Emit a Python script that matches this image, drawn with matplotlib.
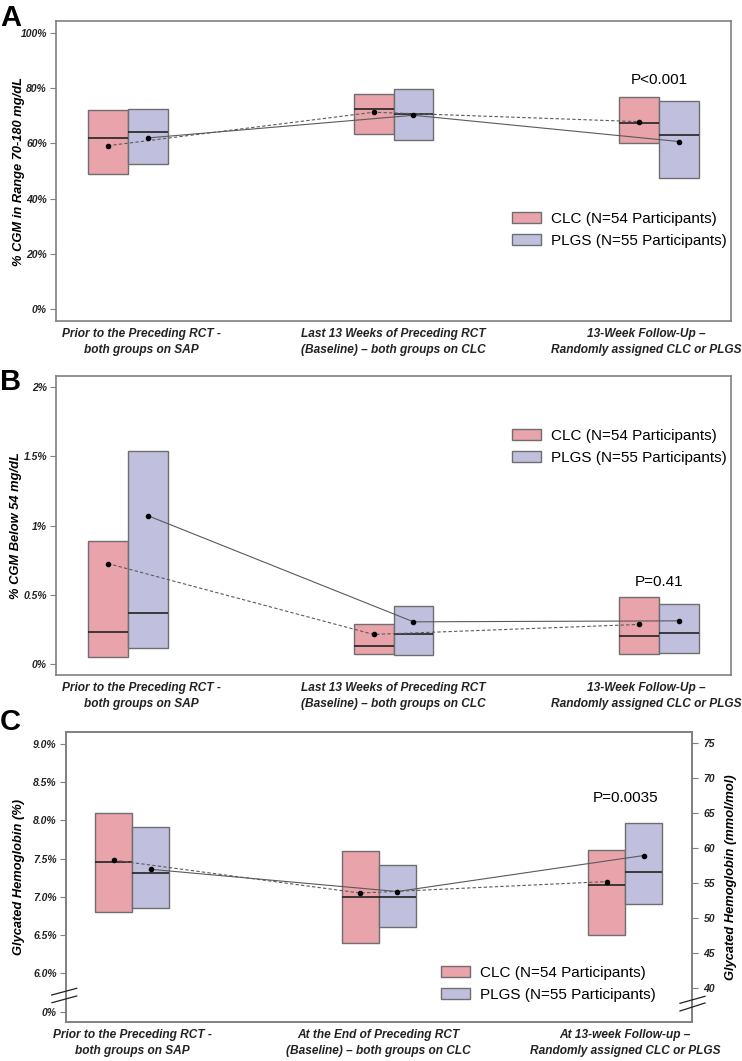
import numpy as np
import matplotlib.pyplot as plt
from matplotlib.patches import Patch

plt.rcParams['font.family'] = ['Liberation Sans', 'DejaVu Sans']

# ---- data -------------------------------------------------------------
groups = [1, 2, 3]
labels_ab = ["Prior to the Preceding RCT -\nboth groups on SAP",
             "Last 13 Weeks of Preceding RCT\n(Baseline) \u2013 both groups on CLC",
             "13-Week Follow-Up \u2013\nRandomly assigned CLC or PLGS"]
labels_c = ["Prior to the Preceding RCT -\nboth groups on SAP",
            "At the End of Preceding RCT\n(Baseline) \u2013 both groups on CLC",
            "At 13-week Follow-up \u2013\nRandomly assigned CLC or PLGS"]
legend_labels = ["CLC (N=54 Participants)", "PLGS (N=55 Participants)"]

# panel A: % time in range 70-180 (fraction)
a_clc_q1 = [0.490, 0.635, 0.600]
a_clc_med = [0.620, 0.723, 0.673]
a_clc_q3 = [0.720, 0.778, 0.767]
a_clc_mean = [0.592, 0.713, 0.679]
a_plgs_q1 = [0.527, 0.612, 0.474]
a_plgs_med = [0.641, 0.708, 0.630]
a_plgs_q3 = [0.724, 0.797, 0.753]
a_plgs_mean = [0.620, 0.702, 0.607]
a_pval = "P<0.001"

# panel B: % below 54 mg/dL
b_clc_q1 = [0.053, 0.070, 0.072]
b_clc_med = [0.233, 0.130, 0.202]
b_clc_q3 = [0.887, 0.288, 0.481]
b_clc_mean = [0.726, 0.214, 0.286]
b_plgs_q1 = [0.113, 0.065, 0.079]
b_plgs_med = [0.370, 0.216, 0.221]
b_plgs_q3 = [1.541, 0.418, 0.433]
b_plgs_mean = [1.072, 0.305, 0.312]
b_pval = "P=0.41"

# panel C: HbA1c (%)
c_clc_q1 = [6.80, 6.40, 6.50]
c_clc_med = [7.45, 7.00, 7.16]
c_clc_q3 = [8.10, 7.60, 7.61]
c_clc_mean = [7.48, 7.05, 7.20]
c_plgs_q1 = [6.86, 6.61, 6.91]
c_plgs_med = [7.31, 7.00, 7.32]
c_plgs_q3 = [7.91, 7.41, 7.96]
c_plgs_mean = [7.36, 7.07, 7.54]
c_pval = "P=0.0035"
c_ticks = [5.5, 6.0, 6.5, 7.0, 7.5, 8.0, 8.5, 9.0]
c_ticklabels = ["0%", "6.0%", "6.5%", "7.0%", "7.5%", "8.0%", "8.5%", "9.0%"]
mmol_ticks = [40, 45, 50, 55, 60, 65, 70, 75]

# ---- style ------------------------------------------------------------
CLC_COL = "#e9a3aa"
PLGS_COL = "#c0c0de"
EDGE = "#6e6e6e"
LINE = "#5a5a5a"
FRAME = "#808080"
W = 0.15
BI = dict(fontweight="bold", fontstyle="italic")

fig = plt.figure(figsize=(7.42, 10.61), dpi=100)
FW, FH = 742.0, 1061.0


def px_axes(l, t, r, b):
    return fig.add_axes([l / FW, 1 - b / FH, (r - l) / FW, (b - t) / FH])


def draw_panel(ax, clc, plgs):
    x = np.array(groups, dtype=float)
    for (q1, med, q3, mean), off, col, ls in [(clc, -W / 2, CLC_COL, (0, (3, 2))),
                                             (plgs, W / 2, PLGS_COL, "-")]:
        q1, med, q3 = np.array(q1), np.array(med), np.array(q3)
        ax.bar(x + off, q3 - q1, bottom=q1, width=W, color=col,
               edgecolor=EDGE, linewidth=1.0, zorder=2)
        ax.hlines(med, x + off - W / 2, x + off + W / 2, color="#222222",
                  linewidth=1.2, zorder=3)
        ax.plot(x + off, mean, color=LINE, linestyle=ls, linewidth=0.8,
                zorder=4)
        ax.plot(x + off, mean, linestyle="none", marker="o", markersize=3,
                color="black", zorder=5)
    ax.set_xlim(0.73, 3.27)
    for s in ax.spines.values():
        s.set_color(FRAME)
        s.set_linewidth(1.2)
    ax.tick_params(axis="y", direction="out", length=4.5, width=0.8,
                   color=FRAME, pad=2, labelsize=7.5, labelcolor="#222222")
    ax.tick_params(axis="x", length=0, pad=5, labelsize=8.6,
                   labelcolor="#222222")


def set_xlabels(ax, pos, labels):
    ax.set_xticks(pos)
    ax.set_xticklabels(labels, linespacing=1.45, **BI)


def add_legend(x_px, y_px):
    handles = [Patch(facecolor=CLC_COL, edgecolor=EDGE, linewidth=1.0),
               Patch(facecolor=PLGS_COL, edgecolor=EDGE, linewidth=1.0)]
    fig.legend(handles, legend_labels, loc="upper left",
               bbox_to_anchor=(x_px / FW, 1 - y_px / FH),
               bbox_transform=fig.transFigure, frameon=False, fontsize=11,
               borderpad=0, borderaxespad=0, handlelength=1.95,
               handleheight=0.72, handletextpad=0.65, labelspacing=0.52)


# ---- panel A ----------------------------------------------------------
axA = px_axes(56, 21, 731, 321)
draw_panel(axA, (a_clc_q1, a_clc_med, a_clc_q3, a_clc_mean),
           (a_plgs_q1, a_plgs_med, a_plgs_q3, a_plgs_mean))
axA.set_ylim(-0.042, 1.043)
axA.set_yticks([0, 0.2, 0.4, 0.6, 0.8, 1.0])
axA.set_yticklabels(["0%", "20%", "40%", "60%", "80%", "100%"], **BI)
axA.set_ylabel("% CGM in Range 70-180 mg/dL", fontsize=9.3, **BI)
axA.yaxis.set_label_coords((25 - 56) / 675, 0.5)
set_xlabels(axA, [1.05, 2, 2.95], labels_ab)
axA.text(3, 0.829, a_pval, ha="center", va="center", fontsize=11)
add_legend(511.7, 212)

# ---- panel B ----------------------------------------------------------
axB = px_axes(56, 376, 731, 675)
draw_panel(axB, (b_clc_q1, b_clc_med, b_clc_q3, b_clc_mean),
           (b_plgs_q1, b_plgs_med, b_plgs_q3, b_plgs_mean))
axB.set_ylim(-0.079, 2.08)
axB.set_yticks([0, 0.5, 1, 1.5, 2])
axB.set_yticklabels(["0%", "0.5%", "1%", "1.5%", "2%"], **BI)
axB.set_ylabel("% CGM Below 54 mg/dL", fontsize=9.3, **BI)
axB.yaxis.set_label_coords((22 - 56) / 675, 0.5)
set_xlabels(axB, [1.05, 2, 2.95], labels_ab)
axB.text(3, 0.594, b_pval, ha="center", va="center", fontsize=11)
add_legend(511.7, 429)

# ---- panel C ----------------------------------------------------------
axC = px_axes(65.7, 731.7, 691.7, 1021.7)
draw_panel(axC, (c_clc_q1, c_clc_med, c_clc_q3, c_clc_mean),
           (c_plgs_q1, c_plgs_med, c_plgs_q3, c_plgs_mean))
axC.set_ylim(5.37, 9.157)
axC.set_yticks(c_ticks)
axC.set_yticklabels(c_ticklabels, **BI)
axC.set_ylabel("Glycated Hemoglobin (%)", fontsize=9.3, **BI)
axC.yaxis.set_label_coords((25 - 65.7) / 626, 0.5)
set_xlabels(axC, [1, 2, 3], labels_c)
axC.text(3, 8.294, c_pval, ha="center", va="center", fontsize=11)
add_legend(440.7, 966)

axR = axC.twinx()
axR.set_ylim(axC.get_ylim())
axR.set_yticks([(m + 23.5) / 10.93 for m in mmol_ticks])
axR.set_yticklabels([str(m) for m in mmol_ticks], **BI)
axR.tick_params(axis="y", direction="out", length=4.5, width=0.8,
                color=FRAME, pad=4, labelsize=7.5, labelcolor="#222222")
axR.set_ylabel("Glycated Hemoglobin (mmol/mol)", fontsize=9.3, **BI)
axR.yaxis.set_label_coords((725 - 65.7) / 626, 0.5)
for s in axR.spines.values():
    s.set_color(FRAME)
    s.set_linewidth(1.2)


# axis break marks
def brk(x0, x1, y0, y1):
    fig.add_artist(plt.Line2D([x0 / FW, x1 / FW], [1 - y0 / FH, 1 - y1 / FH],
                              color="#222222", linewidth=0.9))


brk(51.7, 76.7, 995, 988.3)
brk(52, 76.7, 1002.7, 996)
brk(680, 705, 1003.3, 996.3)
brk(680, 705, 1011, 1003)

# panel letters
for letter, y in [("A", 26), ("B", 390), ("C", 730)]:
    fig.text(0.0, 1 - y / FH, letter, fontsize=21, fontweight="bold",
             ha="left", va="baseline")

fig.savefig("out.png", dpi=100)
